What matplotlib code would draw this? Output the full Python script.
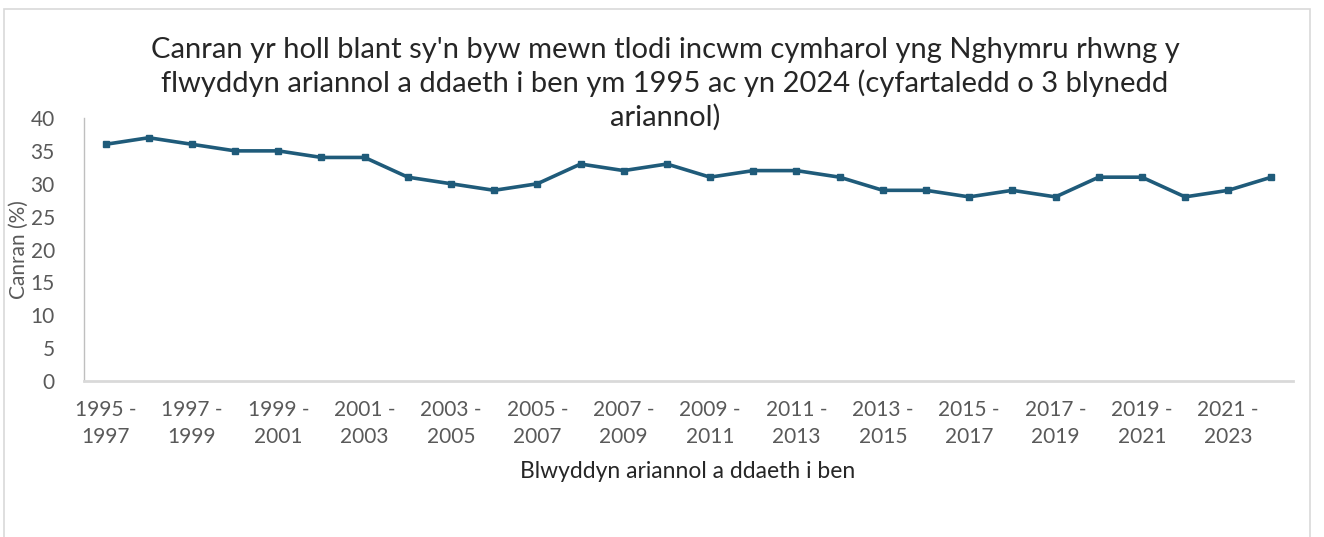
import matplotlib
matplotlib.use("Agg")
import matplotlib.pyplot as plt
from matplotlib.patches import Rectangle

plt.rcParams['font.family'] = ['Lato', 'DejaVu Sans']

# Three-year financial periods (ending year range) and child poverty rates (%)
periods = [f"{y} -\n{y + 2}" for y in range(1995, 2023)]
rates = [36, 37, 36, 35, 35, 34, 34, 31, 30, 29, 30, 33, 32, 33,
         31, 32, 32, 31, 29, 29, 28, 29, 28, 31, 31, 28, 29, 31]
y_ticks = [0, 5, 10, 15, 20, 25, 30, 35, 40]

title = ("Canran yr holl blant sy'n byw mewn tlodi incwm cymharol yng Nghymru rhwng y\n"
         "flwyddyn ariannol a ddaeth i ben ym 1995 ac yn 2024 (cyfartaledd o 3 blynedd\n"
         "ariannol)")
x_title = "Blwyddyn ariannol a ddaeth i ben"
y_title = "Canran (%)"

line_color = "#1f5b7a"
text_grey = "#595959"

fig = plt.figure(figsize=(13.24, 5.37), dpi=100)
fig.patch.set_facecolor("white")

# light frame around the chart area
fig.add_artist(Rectangle((4 / 1324, -0.05), 1306 / 1324, 1 - 9 / 537 + 0.05,
                         transform=fig.transFigure, fill=False,
                         edgecolor="#d9d9d9", linewidth=1.2))

ax = fig.add_axes([84 / 1324, (537 - 381) / 537, (1293 - 84) / 1324, (381 - 118) / 537])
x = list(range(len(rates)))
ax.plot(x, rates, color=line_color, linewidth=2.6, marker="s", markersize=5,
        markerfacecolor=line_color, markeredgecolor=line_color)

ax.set_xlim(-0.5, len(rates) - 0.5)
ax.set_ylim(0, 40)
ax.set_yticks(y_ticks)
ax.set_yticklabels([str(v) for v in y_ticks], fontsize=15, color=text_grey)
ax.set_xticks(x[::2])
ax.set_xticklabels(periods[::2], fontsize=15, color=text_grey, linespacing=1.4)
ax.tick_params(axis="both", length=0)
ax.tick_params(axis="y", pad=21)
ax.tick_params(axis="x", pad=14)

for side in ("top", "right"):
    ax.spines[side].set_visible(False)
ax.spines["left"].set_color("#bfbfbf")
ax.spines["left"].set_linewidth(1.0)
ax.spines["bottom"].set_color("#d9d9d9")
ax.spines["bottom"].set_linewidth(2.0)

fig.text(665 / 1324, 1 - 37 / 537, title, ha="center", va="top", fontsize=21,
         color="#262626", linespacing=1.3)
fig.text(688 / 1324, 1 - 471 / 537, x_title, ha="center", va="center",
         fontsize=16.5, color="#262626")
fig.text(19 / 1324, 1 - 250 / 537, y_title, ha="center", va="center",
         rotation=90, fontsize=15, color=text_grey)

fig.savefig("out.png", dpi=100, facecolor="white")
